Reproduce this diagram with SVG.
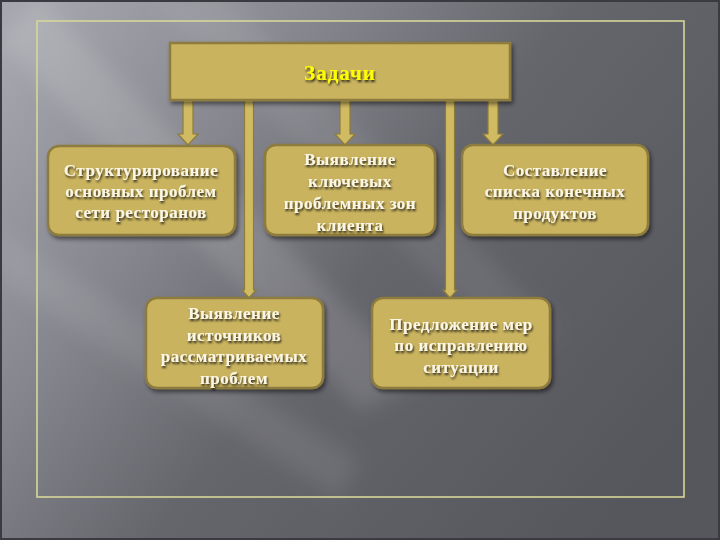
<svg xmlns="http://www.w3.org/2000/svg" width="720" height="540" viewBox="0 0 720 540">
<defs>
<linearGradient id="bg" x1="0" y1="0.1" x2="1" y2="0.7">
<stop offset="0" stop-color="#a6a6ae"/>
<stop offset="0.3" stop-color="#85858d"/>
<stop offset="0.55" stop-color="#65656c"/>
<stop offset="1" stop-color="#56565d"/>
</linearGradient>
<filter id="blur" x="-20%" y="-20%" width="140%" height="140%">
<feGaussianBlur stdDeviation="10"/>
</filter>
<filter id="sh" x="-10%" y="-10%" width="125%" height="130%">
<feGaussianBlur in="SourceAlpha" stdDeviation="2"/>
<feOffset dx="2" dy="3"/>
<feComponentTransfer><feFuncA type="linear" slope="0.5"/></feComponentTransfer>
<feMerge><feMergeNode/><feMergeNode in="SourceGraphic"/></feMerge>
</filter>
<filter id="tsh" x="-10%" y="-30%" width="120%" height="160%">
<feGaussianBlur in="SourceAlpha" stdDeviation="0.8"/>
<feOffset dx="1" dy="1.5"/>
<feComponentTransfer><feFuncA type="linear" slope="0.8"/></feComponentTransfer>
<feMerge><feMergeNode/><feMergeNode in="SourceGraphic"/></feMerge>
</filter>
</defs>
<style>
.box{fill:#c9b35f;stroke:#8d7c3c;stroke-width:2.5}
.lbl{font-family:"Liberation Serif","Times New Roman",serif;font-size:17px;font-weight:bold;letter-spacing:0.5px;fill:#fbf6e6;text-anchor:middle}
.ttl{font-family:"Liberation Serif","Times New Roman",serif;font-size:21px;font-weight:bold;letter-spacing:1px;fill:#ffff00;text-anchor:middle}
.conn{fill:#d1bb62;stroke:#8d7c3c;stroke-width:1.2}
</style>
<rect x="0" y="0" width="720" height="540" fill="url(#bg)"/>
<g filter="url(#blur)" fill="#ffffff">
<polygon points="0,40 40,0 420,380 360,410" opacity="0.12"/>
<polygon points="0,230 0,280 340,500 360,460" opacity="0.08"/>
<polygon points="150,0 230,0 560,330 520,360" opacity="0.07"/>
</g>
<rect x="1" y="1" width="718" height="538" fill="none" stroke="#3a3a40" stroke-width="2"/>
<rect x="37" y="21" width="647" height="476" fill="none" stroke="#d6d69a" stroke-width="1.6"/>

<g id="connectors">
<path class="conn" d="M183,100 V134 H178 L188,145 L198,134 H193 V100 Z"/>
<path class="conn" d="M340,100 V134 H335 L345,145 L355,134 H350 V100 Z"/>
<path class="conn" d="M488,100 V134 H483 L493,145 L503,134 H498 V100 Z"/>
<path class="conn" d="M244.5,100 V290 H242 L249,298 L256,290 H253.5 V100 Z"/>
<path class="conn" d="M445.5,100 V290 H443 L450,298 L457,290 H454.5 V100 Z"/>
</g>

<g id="n-zadachi">
<rect class="box" x="170" y="43" width="340" height="57" filter="url(#sh)" fill="#ccb662"/>
<text class="ttl" x="340" y="80" filter="url(#tsh)">Задачи</text>
</g>
<g id="n-struct">
<rect class="box" x="48" y="146" width="187" height="89" rx="11" filter="url(#sh)"/>
<text class="lbl" x="141" y="176" filter="url(#tsh)">Структурирование</text>
<text class="lbl" x="141" y="197" filter="url(#tsh)">основных проблем</text>
<text class="lbl" x="141" y="218" filter="url(#tsh)">сети ресторанов</text>
</g>
<g id="n-zones">
<rect class="box" x="265" y="145" width="170" height="90" rx="11" filter="url(#sh)"/>
<text class="lbl" x="350" y="165" filter="url(#tsh)">Выявление</text>
<text class="lbl" x="350" y="187" filter="url(#tsh)">ключевых</text>
<text class="lbl" x="350" y="209" filter="url(#tsh)">проблемных зон</text>
<text class="lbl" x="350" y="231" filter="url(#tsh)">клиента</text>
</g>
<g id="n-list">
<rect class="box" x="462" y="145" width="186" height="90" rx="11" filter="url(#sh)"/>
<text class="lbl" x="555" y="176" filter="url(#tsh)">Составление</text>
<text class="lbl" x="555" y="197" filter="url(#tsh)">списка конечных</text>
<text class="lbl" x="555" y="219" filter="url(#tsh)">продуктов</text>
</g>
<g id="n-sources">
<rect class="box" x="146" y="298" width="177" height="90" rx="11" filter="url(#sh)"/>
<text class="lbl" x="234" y="319" filter="url(#tsh)">Выявление</text>
<text class="lbl" x="234" y="341" filter="url(#tsh)">источников</text>
<text class="lbl" x="234" y="362" filter="url(#tsh)">рассматриваемых</text>
<text class="lbl" x="234" y="384" filter="url(#tsh)">проблем</text>
</g>
<g id="n-measures">
<rect class="box" x="372" y="298" width="178" height="90" rx="11" filter="url(#sh)"/>
<text class="lbl" x="461" y="330" filter="url(#tsh)">Предложение мер</text>
<text class="lbl" x="461" y="351" filter="url(#tsh)">по исправлению</text>
<text class="lbl" x="461" y="373" filter="url(#tsh)">ситуации</text>
</g>
</svg>
